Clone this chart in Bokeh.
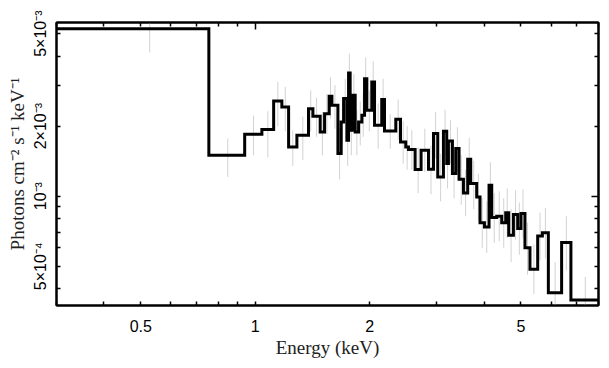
from bokeh.plotting import figure
from bokeh.models import Range1d, LogAxis, FixedTicker
from bokeh.embed import file_html
from bokeh.resources import INLINE

# Bin edges (keV)
bin_edges_kev = [0.3, 0.755, 0.938, 1.041, 1.118, 1.175, 1.224, 1.287, 1.381, 1.418,
                 1.482, 1.522, 1.565, 1.591, 1.650, 1.683, 1.708, 1.742, 1.760, 1.777,
                 1.803, 1.832, 1.870, 1.908, 1.939, 1.966, 2.026, 2.060, 2.152, 2.188,
                 2.343, 2.411, 2.489, 2.530, 2.634, 2.731, 2.856, 2.944, 3.021, 3.127,
                 3.190, 3.223, 3.302, 3.369, 3.437, 3.530, 3.622, 3.689, 3.825, 3.903,
                 4.009, 4.122, 4.190, 4.318, 4.451, 4.560, 4.644, 4.778, 4.903, 5.002,
                 5.124, 5.282, 5.535, 5.694, 5.904, 6.398, 6.769, 8.0]

# Flux per bin, units of 1e-3 photons cm^-2 s^-1 keV^-1
flux_e3 = [5.245, 1.500, 1.845, 1.933, 2.565, 2.417, 1.628, 1.827, 2.379, 2.205,
           1.888, 2.264, 2.687, 2.458, 1.525, 2.084, 2.627, 1.740, 3.382, 1.920,
           2.713, 1.888, 2.084, 2.227, 3.200, 2.340, 3.094, 2.017, 2.601, 1.906,
           2.140, 1.710, 1.628, 1.586, 1.302, 1.575, 1.306, 1.858, 1.210, 1.901,
           1.381, 1.727, 1.252, 1.602, 1.183, 1.033, 1.441, 1.134, 0.993, 0.768,
           0.738, 1.115, 0.810, 0.821, 0.768, 0.848, 0.680, 0.835, 0.727, 0.843,
           0.600, 0.485, 0.674, 0.696, 0.385, 0.633, 0.358]

err_lo_e3 = [4.15, 1.21, 1.50, 1.47, 2.00, 1.90, 1.35, 1.43, 1.90, 1.80,
             1.50, 1.85, 2.15, 1.95, 1.18, 1.65, 2.10, 1.35, 2.70, 1.50,
             2.15, 1.50, 1.65, 1.80, 2.55, 1.90, 2.45, 1.60, 2.05, 1.60,
             1.75, 1.38, 1.30, 1.30, 1.03, 1.27, 1.02, 1.45, 0.95, 1.50,
             1.08, 1.38, 0.98, 1.28, 0.92, 0.82, 1.15, 0.88, 0.78, 0.60,
             0.57, 0.88, 0.63, 0.64, 0.60, 0.66, 0.52, 0.65, 0.56, 0.66,
             0.46, 0.38, 0.53, 0.54, 0.29, 0.48, 0.29]

err_hi_e3 = [6.30, 1.77, 2.22, 2.32, 3.10, 2.95, 1.92, 2.20, 2.85, 2.65,
             2.30, 2.75, 3.25, 3.00, 1.95, 2.60, 3.20, 2.20, 4.10, 2.40,
             3.35, 2.35, 2.55, 2.75, 3.95, 2.85, 3.80, 2.50, 3.20, 2.25,
             2.60, 2.10, 2.00, 1.92, 1.62, 1.95, 1.65, 2.30, 1.52, 2.35,
             1.75, 2.12, 1.58, 1.98, 1.50, 1.30, 1.78, 1.42, 1.25, 0.98,
             0.95, 1.40, 1.03, 1.05, 0.98, 1.08, 0.88, 1.06, 0.94, 1.07,
             0.77, 0.62, 0.85, 0.89, 0.52, 0.82, 0.45]

x_major = [0.5, 1, 2, 5]
x_labels = ["0.5", "1", "2", "5"]
x_minor = [0.3, 0.4, 0.6, 0.7, 0.8, 0.9, 3, 4, 6, 7, 8]
y_major = [0.5, 1, 2, 5]
y_labels = ["5×10⁻⁴", "10⁻³", "2×10⁻³", "5×10⁻³"]
y_minor = [0.4, 0.6, 0.7, 0.8, 0.9, 3, 4]

p = figure(x_axis_type="log", y_axis_type="log",
           x_range=Range1d(0.3, 8.0), y_range=Range1d(0.339, 5.58),
           frame_width=542, frame_height=283,
           min_border_left=56, min_border_right=2, min_border_top=22, min_border_bottom=45,
           output_backend="svg", toolbar_location=None,
           background_fill_color="white", border_fill_color="white")
p.grid.visible = False
p.outline_line_color = "black"
p.outline_line_width = 2

# error bars
mids = [(bin_edges_kev[i] + bin_edges_kev[i + 1]) / 2 for i in range(len(flux_e3))]
p.segment(x0=mids, y0=err_lo_e3, x1=mids, y1=err_hi_e3, line_color="#d2d2d2", line_width=1)

# step histogram
xs, ys = [], []
for i, f in enumerate(flux_e3):
    xs += [bin_edges_kev[i], bin_edges_kev[i + 1]]
    ys += [f, f]
p.line(xs, ys, line_color="black", line_width=3, line_join="miter")

def style(ax):
    ax.axis_line_width = 2
    ax.axis_line_color = "black"
    ax.major_tick_out = 0
    ax.minor_tick_out = 0
    ax.major_tick_line_width = 1.5
    ax.minor_tick_line_width = 1.5
    ax.major_label_text_font = "Liberation Sans"
    ax.major_label_text_font_size = "16px"
    ax.major_label_text_color = "black"
    ax.axis_label_text_font = "Liberation Serif"
    ax.axis_label_text_font_size = "19px"
    ax.axis_label_text_font_style = "normal"
    ax.axis_label_text_color = "#222222"

xa = p.xaxis[0]
xa.ticker = FixedTicker(ticks=x_major, minor_ticks=x_minor)
xa.major_label_overrides = {t: l for t, l in zip(x_major, x_labels)}
xa.axis_label = "Energy (keV)"
style(xa)
xa.major_tick_in = 4
xa.minor_tick_in = 4
xa.major_label_standoff = 14
xa.axis_label_standoff = 2

ya = p.yaxis[0]
ya.ticker = FixedTicker(ticks=y_major, minor_ticks=y_minor)
ya.major_label_overrides = {t: l for t, l in zip(y_major, y_labels)}
ya.major_label_orientation = "vertical"
ya.axis_label = "Photons cm⁻² s⁻¹ keV⁻¹"
style(ya)
ya.major_tick_in = 4
ya.minor_tick_in = 4
ya.major_label_standoff = 7
ya.axis_label_standoff = 2

top = LogAxis(ticker=FixedTicker(ticks=[1], minor_ticks=x_minor + [0.5, 2, 5]))
right = LogAxis(ticker=FixedTicker(ticks=[1], minor_ticks=y_minor + [0.5, 2, 5]))
for ax in (top, right):
    style(ax)
    ax.major_tick_in = 7
    ax.minor_tick_in = 4
    ax.major_label_text_font_size = "4px"
    ax.major_label_text_alpha = 0
    ax.major_label_standoff = 0
p.add_layout(top, "above")
p.add_layout(right, "right")

open("out.html", "w").write(file_html(p, INLINE))
